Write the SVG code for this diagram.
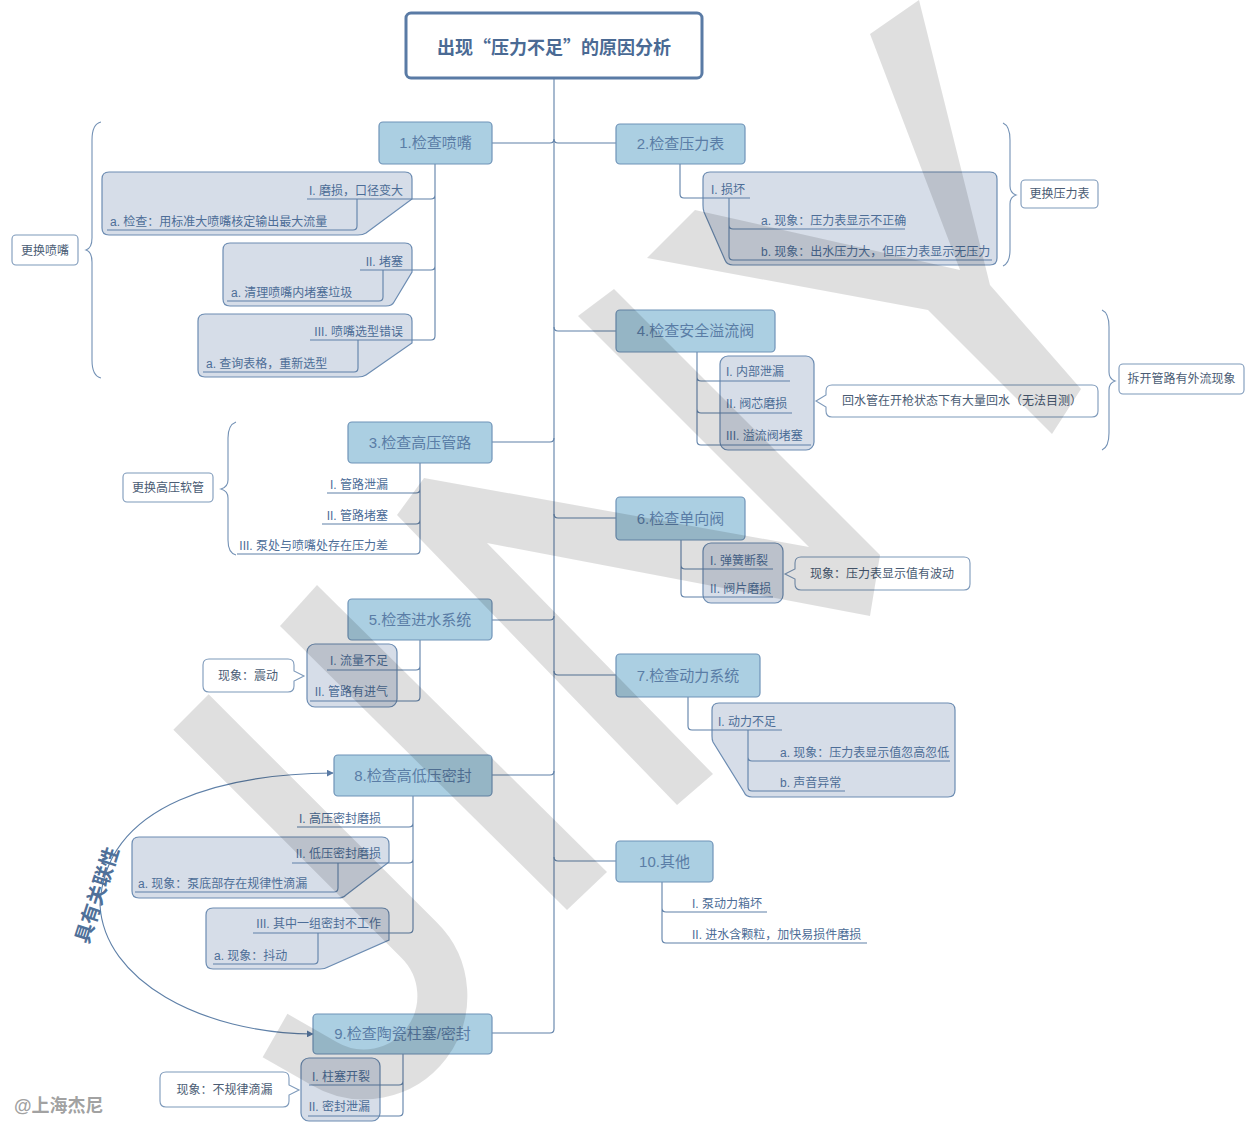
<svg xmlns="http://www.w3.org/2000/svg" width="1256" height="1132" viewBox="0 0 1256 1132">
<defs>
<style>
text{font-family:"Liberation Sans","Noto Sans CJK SC",sans-serif}
.mn{fill:#abcfe2;stroke:#6f93b8;stroke-width:1.2}
.mt{font-size:15px;fill:#5a7da6;text-anchor:middle}
.st{font-size:12px;fill:#4d6d97}
.e{text-anchor:end}
.bub{fill:#d6dde8;stroke:#6c8cb2;stroke-width:1.2}
.cn{fill:none;stroke:#5f80a8;stroke-width:1.1}
.note{fill:#fff;stroke:#7d99ba;stroke-width:1.1}
.nt{font-size:12px;fill:#4a5c74;text-anchor:middle}
.br{fill:none;stroke:#7391b5;stroke-width:1.1}
</style>
<marker id="ah" viewBox="0 0 10 10" refX="9" refY="5" markerWidth="7" markerHeight="7" orient="auto-start-reverse" markerUnits="userSpaceOnUse">
<path d="M0,0 L10,5 L0,10 Z" fill="#5a7ba5"/>
</marker>
</defs>
<rect width="1256" height="1132" fill="#fff"/>

<g id="connectors">
<path class="cn" d="M554,78 V1029 Q554,1033 550,1033 H492"/>
<path class="cn" d="M492,143 H550 Q554,143 554,139 M554,139 Q554,143 558,143 H616"/>
<path class="cn" d="M492,442 H550 Q554,442 554,438"/>
<path class="cn" d="M554,327 Q554,331 558,331 H616"/>
<path class="cn" d="M492,620 H550 Q554,620 554,616"/>
<path class="cn" d="M554,514 Q554,518 558,518 H616"/>
<path class="cn" d="M554,671 Q554,675 558,675 H616"/>
<path class="cn" d="M492,775 H550 Q554,775 554,771"/>
<path class="cn" d="M554,857 Q554,861 558,861 H616"/>
<path class="cn" d="M100,905 C104,980 200,1033 313,1034" marker-end="url(#ah)"/>
<path class="cn" d="M333,773 C230,774 105,800 100,905" marker-start="url(#ah)"/>
</g>

<g id="title">
<rect x="406" y="13" width="296" height="65" rx="5" fill="#fff" stroke="#5a7ba5" stroke-width="3"/>
<text x="554" y="54" text-anchor="middle" font-size="18" font-weight="bold" fill="#4a6a94" style="font-family:'Noto Sans CJK SC','Liberation Sans',sans-serif">出现“压力不足”的原因分析</text>
</g>

<g id="n1">
<path class="bub" d="M109,172 H405 Q412,172 412,179 V199 L366,233 Q363,235 358,235 H109 Q102,235 102,228 V179 Q102,172 109,172 Z"/>
<path class="bub" d="M230,243 H405 Q412,243 412,250 V272 L394,302 Q392,306 386,306 H230 Q223,306 223,299 V250 Q223,243 230,243 Z"/>
<path class="bub" d="M205,314 H405 Q412,314 412,321 V343 L366,375 Q363,377 358,377 H205 Q198,377 198,370 V321 Q198,314 205,314 Z"/>
<path class="cn" d="M435,164 V336 Q435,340 431,340 H310 M435,195 Q435,199 431,199 H307 M435,266 Q435,270 431,270 H360 M357,199 V226 Q357,230 353,230 H107 M383,270 V297 Q383,301 379,301 H227 M358,340 V368 Q358,372 354,372 H203"/>
<rect class="mn" x="379" y="122" width="113" height="42" rx="4"/>
<text class="mt" x="435.5" y="148">1.检查喷嘴</text>
<text class="st e" x="403" y="195">I. 磨损，口径变大</text>
<text class="st" x="110" y="226">a. 检查：用标准大喷嘴核定输出最大流量</text>
<text class="st e" x="403" y="266">II. 堵塞</text>
<text class="st" x="231" y="297">a. 清理喷嘴内堵塞垃圾</text>
<text class="st e" x="403" y="336">III. 喷嘴选型错误</text>
<text class="st" x="206" y="368">a. 查询表格，重新选型</text>
<path class="br" d="M101,122 Q92,124 92,140 V238 Q92,248 86,250 Q92,252 92,262 V360 Q92,376 101,378"/>
<rect class="note" x="12" y="235" width="66" height="30" rx="4"/>
<text class="nt" x="45" y="255">更换喷嘴</text>
</g>

<g id="n2">
<path class="bub" d="M710,172 H990 Q997,172 997,179 V258 Q997,265 990,265 H733 Q727,265 725,260 L704,212 Q703,209 703,205 V179 Q703,172 710,172 Z"/>
<path class="cn" d="M680,164 V194 Q680,198 684,198 H750 M729,198 V256 Q729,260 733,260 H992 M729,225 Q729,229 733,229 H905"/>
<rect class="mn" x="616" y="124" width="129" height="40" rx="4"/>
<text class="mt" x="680.5" y="149">2.检查压力表</text>
<text class="st" x="711" y="194">I. 损坏</text>
<text class="st" x="761" y="225">a. 现象：压力表显示不正确</text>
<text class="st" x="761" y="256">b. 现象：出水压力大，但压力表显示无压力</text>
<path class="br" d="M1003,123 Q1010,126 1010,140 V186 Q1010,193 1016,195 Q1010,197 1010,204 V250 Q1010,263 1003,266"/>
<rect class="note" x="1021" y="180" width="77" height="28" rx="4"/>
<text class="nt" x="1059.5" y="198">更换压力表</text>
</g>

<g id="n3">
<path class="cn" d="M420,463 V550 Q420,554 416,554 H237 M420,489 Q420,493 416,493 H327 M420,520 Q420,524 416,524 H322"/>
<rect class="mn" x="348" y="422" width="144" height="41" rx="4"/>
<text class="mt" x="420" y="447.5">3.检查高压管路</text>
<text class="st e" x="388" y="489">I. 管路泄漏</text>
<text class="st e" x="388" y="520">II. 管路堵塞</text>
<text class="st e" x="388" y="550">III. 泵处与喷嘴处存在压力差</text>
<path class="br" d="M236,422 Q228,425 228,438 V480 Q228,487 221,489 Q228,491 228,498 V540 Q228,553 236,555"/>
<rect class="note" x="123" y="473" width="90" height="29" rx="4"/>
<text class="nt" x="168" y="492">更换高压软管</text>
</g>

<g id="n4">
<rect class="bub" x="720" y="356" width="94" height="94" rx="8"/>
<path class="cn" d="M697,352 V441 Q697,445 701,445 H811 M697,377 Q697,381 701,381 H790 M697,409 Q697,413 701,413 H792"/>
<rect class="mn" x="616" y="310" width="159" height="42" rx="4"/>
<text class="mt" x="695.5" y="336">4.检查安全溢流阀</text>
<text class="st" x="726" y="376">I. 内部泄漏</text>
<text class="st" x="726" y="408">II. 阀芯磨损</text>
<text class="st" x="726" y="440">III. 溢流阀堵塞</text>
<path class="note" d="M832,385 H1092 Q1098,385 1098,391 V411 Q1098,417 1092,417 H832 Q826,417 826,411 V407 L816,401 L826,395 V391 Q826,385 832,385 Z"/>
<text class="nt" x="962" y="405">回水管在开枪状态下有大量回水（无法目测）</text>
<path class="br" d="M1102,310 Q1109,313 1109,327 V372 Q1109,379 1115,381 Q1109,383 1109,390 V433 Q1109,447 1102,450"/>
<rect class="note" x="1119" y="364" width="125" height="30" rx="4"/>
<text class="nt" x="1181.5" y="383">拆开管路有外流现象</text>
</g>

<g id="n5">
<rect class="bub" x="307" y="644" width="90" height="63" rx="8"/>
<path class="cn" d="M420,640 V697 Q420,701 416,701 H310 M420,666 Q420,670 416,670 H327"/>
<rect class="mn" x="348" y="599" width="144" height="41" rx="4"/>
<text class="mt" x="420" y="625">5.检查进水系统</text>
<text class="st e" x="388" y="665">I. 流量不足</text>
<text class="st e" x="388" y="696">II. 管路有进气</text>
<path class="note" d="M209,659 H288 Q294,659 294,665 V671 L304,676 L294,681 V686 Q294,692 288,692 H209 Q203,692 203,686 V665 Q203,659 209,659 Z"/>
<text class="nt" x="248" y="680">现象：震动</text>
</g>

<g id="n6">
<rect class="bub" x="703" y="543" width="80" height="60" rx="8"/>
<path class="cn" d="M681,540 V593 Q681,597 685,597 H773 M681,565 Q681,569 685,569 H773"/>
<rect class="mn" x="616" y="497" width="129" height="43" rx="4"/>
<text class="mt" x="680.5" y="524">6.检查单向阀</text>
<text class="st" x="710" y="565">I. 弹簧断裂</text>
<text class="st" x="710" y="593">II. 阀片磨损</text>
<path class="note" d="M801,557 H964 Q970,557 970,563 V584 Q970,590 964,590 H801 Q795,590 795,584 V579 L785,574 L795,569 V563 Q795,557 801,557 Z"/>
<text class="nt" x="882" y="578">现象：压力表显示值有波动</text>
</g>

<g id="n7">
<path class="bub" d="M719,703 H948 Q955,703 955,710 V790 Q955,797 948,797 H752 Q746,797 744,792 L713,742 Q712,740 712,736 V710 Q712,703 719,703 Z"/>
<path class="cn" d="M688,697 V726 Q688,730 692,730 H782 M748,730 V787 Q748,791 752,791 H845 M748,757 Q748,761 752,761 H950"/>
<rect class="mn" x="616" y="654" width="144" height="43" rx="4"/>
<text class="mt" x="688" y="681">7.检查动力系统</text>
<text class="st" x="718" y="726">I. 动力不足</text>
<text class="st" x="780" y="757">a. 现象：压力表显示值忽高忽低</text>
<text class="st" x="780" y="787">b. 声音异常</text>
</g>

<g id="n8">
<path class="bub" d="M139,837 H382 Q389,837 389,844 V862 L346,895 Q343,898 338,898 H139 Q132,898 132,891 V844 Q132,837 139,837 Z"/>
<path class="bub" d="M213,908 H382 Q389,908 389,915 V940 L328,967 Q325,969 320,969 H213 Q206,969 206,962 V915 Q206,908 213,908 Z"/>
<path class="cn" d="M413,796 V929 Q413,933 409,933 H253 M413,823 Q413,827 409,827 H297 M413,859 Q413,863 409,863 H292 M338,863 V888 Q338,892 334,892 H135 M318,933 V960 Q318,964 314,964 H213"/>
<rect class="mn" x="334" y="755" width="158" height="41" rx="4"/>
<text class="mt" x="413" y="781">8.检查高低压密封</text>
<text class="st e" x="381" y="823">I. 高压密封磨损</text>
<text class="st e" x="381" y="858">II. 低压密封磨损</text>
<text class="st" x="138" y="888">a. 现象：泵底部存在规律性滴漏</text>
<text class="st e" x="381" y="928">III. 其中一组密封不工作</text>
<text class="st" x="214" y="960">a. 现象：抖动</text>
</g>

<g id="n9">
<rect class="bub" x="301" y="1058" width="79" height="63" rx="8"/>
<path class="cn" d="M403,1054 V1112 Q403,1116 399,1116 H308 M403,1081 Q403,1085 399,1085 H309"/>
<rect class="mn" x="313" y="1014" width="179" height="40" rx="4"/>
<text class="mt" x="402.5" y="1039">9.检查陶瓷柱塞/密封</text>
<text class="st e" x="370" y="1081">I. 柱塞开裂</text>
<text class="st e" x="370" y="1111">II. 密封泄漏</text>
<path class="note" d="M166,1072 H283 Q289,1072 289,1078 V1085 L299,1090 L289,1095 V1101 Q289,1107 283,1107 H166 Q160,1107 160,1101 V1078 Q160,1072 166,1072 Z"/>
<text class="nt" x="224.5" y="1094">现象：不规律滴漏</text>
</g>

<g id="n10">
<path class="cn" d="M662,882 V939 Q662,943 666,943 H867 M662,908 Q662,912 666,912 H767"/>
<rect class="mn" x="616" y="841" width="97" height="41" rx="4"/>
<text class="mt" x="664.5" y="867">10.其他</text>
<text class="st" x="692" y="908">I. 泵动力箱坏</text>
<text class="st" x="692" y="939">II. 进水含颗粒，加快易损件磨损</text>
</g>

<g id="relation-label">
<text x="97" y="895" transform="rotate(-72 97 895)" text-anchor="middle" dominant-baseline="central" font-size="20" font-weight="bold" fill="#4f7099">具有关联性</text>
</g>

<g id="watermark" fill="#000" fill-opacity="0.125" stroke="none">
<polygon points="695,210 960,270 870,34 919,0 990,285 1081,389 1052,434 928,310 647,258"/>
<polygon points="397,515 424,478 809,547 578,316 614,289 880,555 870,616 487,543 713,774 677,805"/>
<polygon points="280,626 317,585 607,872 567,910"/>
<path d="M191,712 L419,940 A78.5,78.5 0 0 1 324,1063.5 L275,1035.5" fill="none" stroke="#000" stroke-opacity="0.125" stroke-width="50"/>
<text x="14" y="1112" font-size="18" font-weight="bold" fill="#888" fill-opacity="0.8">@上海杰尼</text>
</g>
</svg>
